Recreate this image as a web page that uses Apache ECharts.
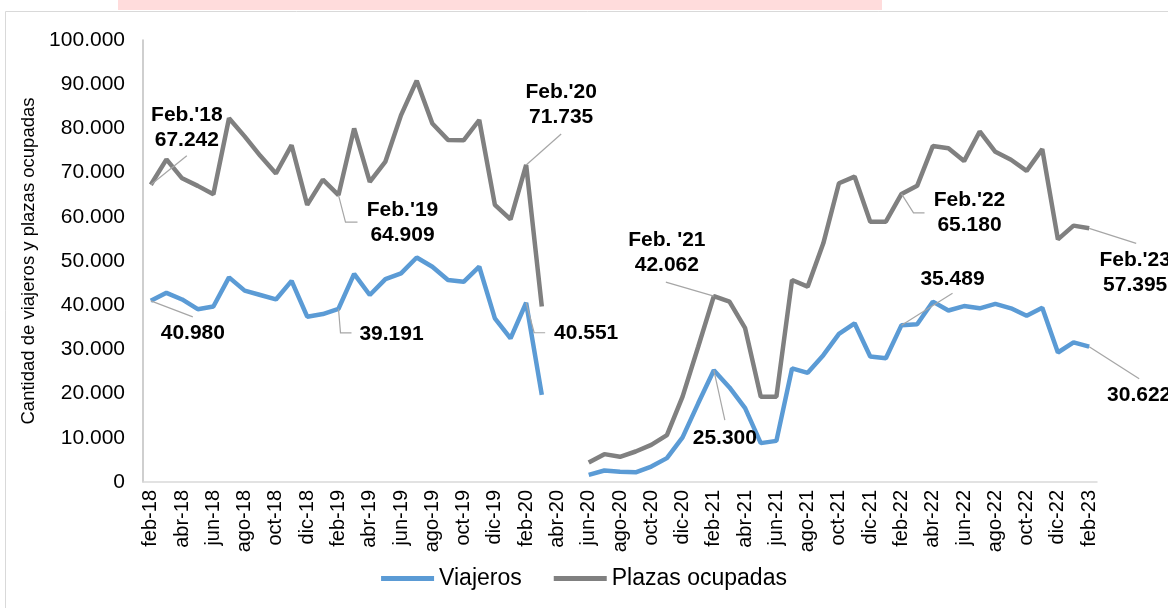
<!DOCTYPE html>
<html>
<head>
<meta charset="utf-8">
<script src="https://cdn.jsdelivr.net/npm/echarts@6/dist/echarts.min.js"></script>
<style>
html,body{margin:0;padding:0;background:#fff;}
#chart{width:1168px;height:608px;}
</style>
</head>
<body>
<div id="chart"></div>
<script>
const categories = ['feb-18','mar-18','abr-18','may-18','jun-18','jul-18','ago-18','sep-18','oct-18','nov-18','dic-18','ene-19',
'feb-19','mar-19','abr-19','may-19','jun-19','jul-19','ago-19','sep-19','oct-19','nov-19','dic-19','ene-20',
'feb-20','mar-20','abr-20','may-20','jun-20','jul-20','ago-20','sep-20','oct-20','nov-20','dic-20','ene-21',
'feb-21','mar-21','abr-21','may-21','jun-21','jul-21','ago-21','sep-21','oct-21','nov-21','dic-21','ene-22',
'feb-22','mar-22','abr-22','may-22','jun-22','jul-22','ago-22','sep-22','oct-22','nov-22','dic-22','ene-23','feb-23'];

const viajeros = [
40980, 42800, 41300, 39100, 39700, 46300, 43300, 42300, 41300, 45500, 37400, 38000,
39191, 47100, 42300, 45900, 47200, 50800, 48700, 45700, 45300, 48700, 37000, 32500,
40551, 19700, null, null, 1600, 2600, 2300, 2200, 3500, 5400, 10100, 17800,
25300, 21400, 16700, 8800, 9300, 25700, 24700, 28700, 33500, 35900, 28400, 28000,
35489, 35700, 40800, 38800, 39800, 39300, 40300, 39300, 37600, 39400, 29300, 31600,
30622];

const plazas = [
67242, 73000, 68700, 67000, 65100, 82300, 78200, 73800, 69800, 76200, 62700, 68400,
64909, 80000, 67900, 72500, 83000, 90800, 81100, 77400, 77300, 81900, 62700, 59400,
71735, 39700, null, null, 4400, 6300, 5700, 6900, 8400, 10600, 19300, 30600,
42062, 40800, 34800, 19300, 19300, 45700, 44200, 54000, 67600, 69100, 58900, 58900,
65180, 67000, 76000, 75500, 72600, 79300, 74700, 72900, 70400, 75300, 54900, 58000,
57395];

const seriesNames = ['Viajeros', 'Plazas ocupadas'];
const yAxisTitle = 'Cantidad de viajeros y plazas ocupadas';
const annotationTitles = ["Feb.'18", "Feb.'19", "Feb.'20", "Feb. '21", "Feb.'22", "Feb.'23"];

function fmt(v) { return String(v).replace(/\B(?=(\d{3})+(?!\d))/g, '.'); }

const FONT = '"Liberation Sans", Arial, Helvetica, sans-serif';
const chart = echarts.init(document.getElementById('chart'));

chart.setOption({
  animation: false,
  backgroundColor: '#ffffff',
  textStyle: { fontFamily: FONT },
  grid: { left: 143, right: 71, top: 40, bottom: 126 },
  legend: {
    bottom: 13,
    left: 'center',
    itemWidth: 53,
    itemHeight: 5,
    itemGap: 32,
    textStyle: { fontSize: 23, color: '#000', fontFamily: FONT },
    data: seriesNames.map(n => ({ name: n, icon: 'rect' }))
  },
  xAxis: {
    type: 'category',
    data: categories,
    boundaryGap: true,
    axisLine: { show: true, lineStyle: { color: '#D9D9D9', width: 1.5 } },
    axisTick: { show: false },
    axisLabel: { interval: 1, rotate: 90, fontSize: 20, color: '#000', margin: 8, fontFamily: FONT }
  },
  yAxis: {
    type: 'value',
    min: 0, max: 100000, interval: 10000,
    name: yAxisTitle,
    nameLocation: 'middle',
    nameGap: 103,
    nameTextStyle: { fontSize: 18.5, color: '#000', fontFamily: FONT },
    axisLine: { show: true, lineStyle: { color: '#BFBFBF', width: 1.5 } },
    axisTick: { show: false },
    splitLine: { show: false },
    axisLabel: { fontSize: 21, color: '#000', margin: 18, formatter: fmt, fontFamily: FONT }
  },
  series: [
    { name: seriesNames[0], type: 'line', data: viajeros, symbol: 'none', connectNulls: false,
      lineStyle: { color: '#5B9BD5', width: 4.5 }, itemStyle: { color: '#5B9BD5' } },
    { name: seriesNames[1], type: 'line', data: plazas, symbol: 'none', connectNulls: false,
      lineStyle: { color: '#808080', width: 4.5 }, itemStyle: { color: '#808080' } }
  ]
});

// annotation layout (pixel offsets from the data point)
const seriesData = [viajeros, plazas];
const annLayout = [
  { s: 1, i: 0,  title: 0, t: [36, -57], path: [[0, 0], [36, -29]] },
  { s: 0, i: 0,  title: -1, t: [42, 32], path: [[0, 0], [42, 16]] },
  { s: 1, i: 12, title: 1, t: [64, 28], path: [[0, 0], [7, 27], [19, 27]] },
  { s: 0, i: 12, title: -1, t: [53, 25], path: [[0, 0], [2, 24], [13, 24]] },
  { s: 1, i: 24, title: 2, t: [35, -60], path: [[0, 0], [35, -31]] },
  { s: 0, i: 24, title: -1, t: [60, 30], path: [[0, 0], [8, 30], [19, 30]] },
  { s: 1, i: 36, title: 3, t: [-47, -43], path: [[0, 0], [-48, -14]] },
  { s: 0, i: 36, title: -1, t: [11, 68], path: [[0, 0], [11, 50]] },
  { s: 1, i: 48, title: 4, t: [68, 19], path: [[0, 0], [12, 19], [23, 19]] },
  { s: 0, i: 48, title: -1, t: [51, -46], path: [[0, 0], [51, -32]] },
  { s: 1, i: 60, title: 5, t: [46, 44], path: [[0, 0], [47, 15]] },
  { s: 0, i: 60, title: -1, t: [50, 49], path: [[0, 0], [50, 32]] }
];

const graphics = [
  { type: 'rect', z: -10, silent: true, shape: { x: 118, y: 0, width: 764, height: 10 }, style: { fill: '#FFDCDC' } },
  { type: 'rect', z: -10, silent: true, shape: { x: 5.5, y: 11.5, width: 1200, height: 640 }, style: { fill: 'none', stroke: '#D9D9D9', lineWidth: 1 } }
];

annLayout.forEach(a => {
  const v = seriesData[a.s][a.i];
  const p = chart.convertToPixel({ xAxisIndex: 0, yAxisIndex: 0 }, [a.i, v]);
  graphics.push({
    type: 'polyline', silent: true, z: 5,
    shape: { points: a.path.map(q => [p[0] + q[0], p[1] + q[1]]) },
    style: { stroke: '#A6A6A6', lineWidth: 1.2, fill: 'none' }
  });
  const txt = (a.title >= 0 ? annotationTitles[a.title] + '\n' : '') + fmt(v);
  graphics.push({
    type: 'text', silent: true, z: 6,
    x: p[0] + a.t[0], y: p[1] + a.t[1],
    style: {
      text: txt, fill: '#000', font: 'bold 21px ' + FONT,
      align: 'center', verticalAlign: 'middle', lineHeight: 25
    }
  });
});

chart.setOption({ graphic: graphics });
</script>
</body>
</html>
